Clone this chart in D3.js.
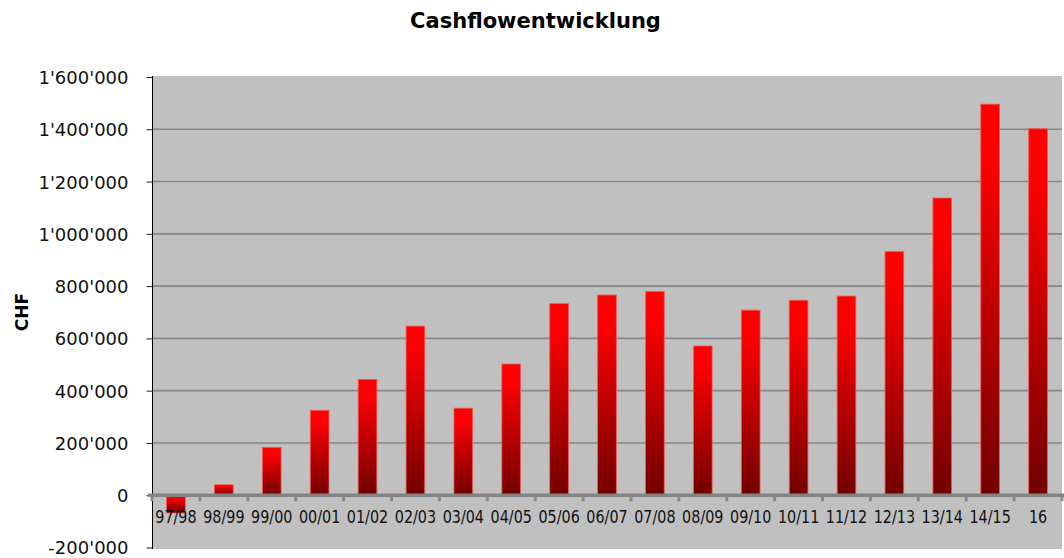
<!DOCTYPE html>
<html><head><meta charset="utf-8">
<script src="https://cdn.jsdelivr.net/npm/d3@7"></script>
<style>body{margin:0;background:#fff}svg{display:block}</style>
</head><body>
<svg id="c" width="1064" height="558"></svg>
<script>
const categories = ["97/98","98/99","99/00","00/01","01/02","02/03","03/04","04/05","05/06","06/07","07/08","08/09","09/10","10/11","11/12","12/13","13/14","14/15","16"];
const cashflow = [-68000, 40000, 183000, 325000, 443000, 647000, 333000, 502000, 733000, 766000, 779000, 571000, 708000, 746000, 762000, 932000, 1137000, 1496000, 1402000];
const yTicks = [-200000, 0, 200000, 400000, 600000, 800000, 1000000, 1200000, 1400000, 1600000];
const title = "Cashflowentwicklung";
const yTitle = "CHF";

const svg = d3.select("#c");
const L = 152, R = 1062, T = 76, B = 549;
const FONT = "'DejaVu Sans', Verdana, sans-serif";

const x = d3.scaleBand().domain(categories).range([L, R]).padding(0);
const y = d3.scaleLinear().domain([-200000, 1600000]).range([547.5, 77]);
const fmt = v => (v < 0 ? "-" : "") + d3.format(",")(Math.abs(v)).replace(/,/g, "'");

const defs = svg.append("defs");
const g1 = defs.append("linearGradient").attr("id","bar").attr("x1",0).attr("y1",0).attr("x2",0).attr("y2",1);
g1.append("stop").attr("offset","0%").attr("stop-color","#ff0000");
g1.append("stop").attr("offset","15%").attr("stop-color","#fb0000");
g1.append("stop").attr("offset","100%").attr("stop-color","#720000");

// plot background
svg.append("rect").attr("x",L).attr("y",T).attr("width",R-L).attr("height",B-T).attr("fill","#c0c0c0");

// gridlines
svg.append("g").selectAll("line").data(yTicks.filter(v => v > 0 && v < 1600000)).join("line")
  .attr("x1",L).attr("x2",R).attr("y1",d=>y(d)).attr("y2",d=>y(d))
  .attr("stroke","#878787").attr("stroke-width",1.6);

// bars
const bw = x.bandwidth()*0.39;
svg.append("g").selectAll("rect").data(cashflow).join("rect")
  .attr("x",(d,i)=>x(categories[i]) + x.bandwidth()/2 - bw/2)
  .attr("width",bw)
  .attr("y",d=>y(Math.max(d,0)))
  .attr("height",d=>Math.abs(y(d)-y(0)))
  .attr("fill","url(#bar)")
  .attr("stroke","#f25a5a").attr("stroke-width",0.8);

// y axis
const yAxis = d3.axisLeft(y).tickValues(yTicks).tickFormat(fmt).tickSize(6).tickPadding(18);
const ga = svg.append("g").attr("transform",`translate(${L+0.5},0)`).call(yAxis);
ga.select(".domain").attr("stroke","#000").attr("d",`M0,${T}V${B}`);
ga.selectAll(".tick line").attr("stroke","#222");
ga.selectAll(".tick text").attr("font-family",FONT).attr("font-size",18).attr("fill","#111").attr("dy","0.36em");

// zero axis with nubs
const gx = svg.append("g").attr("transform",`translate(0,${y(0)})`);
gx.selectAll("rect.nub").data(categories.map(c=>x(c)).concat([R])).join("rect")
  .attr("class","nub").attr("x",d=>d-1.5).attr("y",0).attr("width",3).attr("height",6).attr("fill","#8a8a8a");
gx.append("line").attr("x1",L-4).attr("x2",R+2).attr("y1",0).attr("y2",0).attr("stroke","#848484").attr("stroke-width",3.5);

// x labels
svg.append("g").selectAll("text").data(categories).join("text")
  .attr("transform",d=>`translate(${x(d)+x.bandwidth()/2},523) scale(0.82,1)`)
  .attr("text-anchor","middle").attr("font-family",FONT).attr("font-size",17.5).attr("fill","#111")
  .text(d=>d);

// title
svg.append("text").attr("x",535.5).attr("y",28).attr("text-anchor","middle")
  .attr("font-family",FONT).attr("font-weight","bold").attr("font-size",21).attr("fill","#000").text(title);

// y title
svg.append("text").attr("transform","translate(28,312) rotate(-90)").attr("text-anchor","middle")
  .attr("font-family",FONT).attr("font-weight","bold").attr("font-size",17).attr("fill","#000").text(yTitle);
</script>
</body></html>
